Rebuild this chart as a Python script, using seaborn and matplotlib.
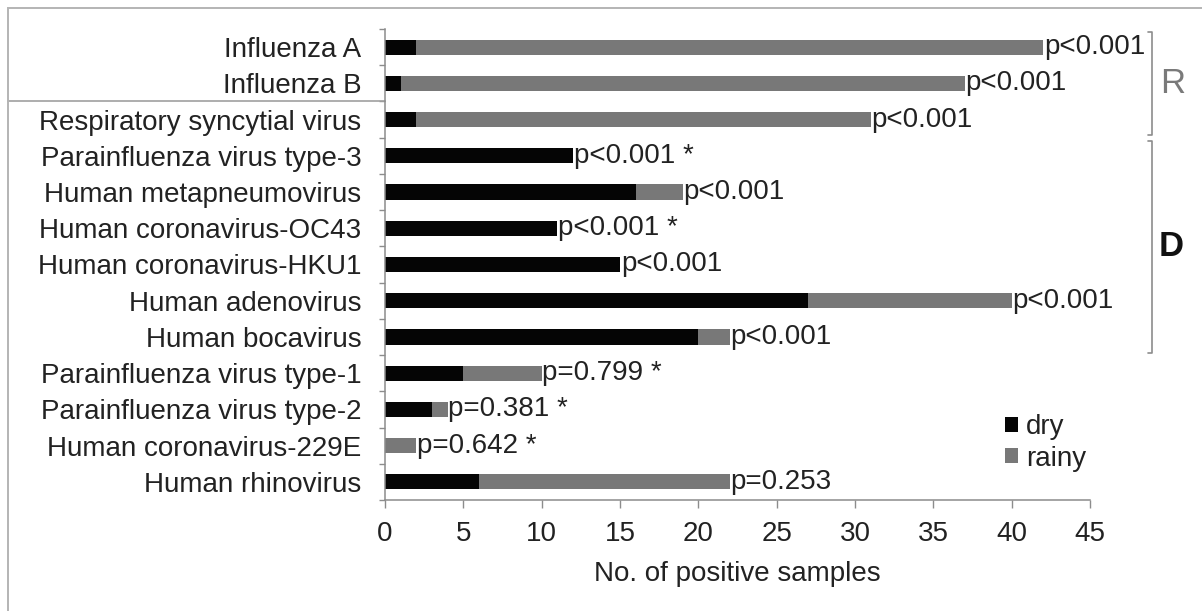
import numpy as np
import pandas as pd
import matplotlib
matplotlib.use("Agg")
import matplotlib.pyplot as plt
import matplotlib.transforms as mtransforms
from matplotlib.patches import Patch, Rectangle
import seaborn as sns

viruses = [
    "Influenza A",
    "Influenza B",
    "Respiratory syncytial virus",
    "Parainfluenza virus type-3",
    "Human metapneumovirus",
    "Human coronavirus-OC43",
    "Human coronavirus-HKU1",
    "Human adenovirus",
    "Human bocavirus",
    "Parainfluenza virus type-1",
    "Parainfluenza virus type-2",
    "Human coronavirus-229E",
    "Human rhinovirus",
]
dry = [2, 1, 2, 12, 16, 11, 15, 27, 20, 5, 3, 0, 6]
rainy = [40, 36, 29, 0, 3, 0, 0, 13, 2, 5, 1, 2, 16]
p_labels = [
    "p<0.001", "p<0.001", "p<0.001", "p<0.001 *", "p<0.001", "p<0.001 *",
    "p<0.001", "p<0.001", "p<0.001", "p=0.799 *", "p=0.381 *", "p=0.642 *",
    "p=0.253",
]
x_ticks = [0, 5, 10, 15, 20, 25, 30, 35, 40, 45]
# season groups: (label, first row, last row)
groups = [("R", 0, 2), ("D", 3, 8)]

DRY = "#050505"
RAINY = "#787878"
LINE = "#8c8c8c"
TXT = "#222222"
FS = 20

sns.set_style("ticks")
plt.rcParams["font.family"] = ["Liberation Sans", "DejaVu Sans"]

df = pd.DataFrame({"virus": viruses, "dry": dry, "rainy": rainy})
df["total"] = df["dry"] + df["rainy"]

fig = plt.figure(figsize=(12.02, 6.11), dpi=100)
ax = fig.add_axes([385 / 1202, 1 - 500 / 611, 705 / 1202, 471 / 611])

sns.barplot(data=df, x="total", y="virus", color=RAINY, saturation=1,
            width=0.42, linewidth=0, ax=ax)
sns.barplot(data=df, x="dry", y="virus", color=DRY, saturation=1,
            width=0.42, linewidth=0, ax=ax)

ax.set_xlim(0, 45)
ax.set_ylim(len(viruses) - 0.5, -0.5)
ax.set_xticks(x_ticks)
ax.set_xticklabels([str(t) for t in x_ticks])
ax.set_ylabel("")
ax.set_xlabel("No. of positive samples", fontsize=FS, color=TXT, labelpad=10)

for s in ["top", "right"]:
    ax.spines[s].set_visible(False)
for s in ["left", "bottom"]:
    ax.spines[s].set_color(LINE)
    ax.spines[s].set_linewidth(1.1)

ax.tick_params(axis="x", length=6, width=1, color=LINE, direction="out",
               labelsize=FS, labelcolor=TXT, pad=9)
ax.tick_params(axis="y", which="major", length=0, pad=17,
               labelsize=FS, labelcolor=TXT)
ax.set_yticks(np.arange(-0.5, len(viruses)), minor=True)
ax.tick_params(axis="y", which="minor", length=4, width=1, color=LINE,
               direction="out")

# p-value labels next to the bars
for i, (tot, lab) in enumerate(zip(df["total"], p_labels)):
    ax.text(tot + 0.05, i, lab, fontsize=FS, color=TXT, ha="left",
            va="center", clip_on=False)

# season brackets
bx = 48.95
for name, r0, r1 in groups:
    y0, y1 = r0 - 0.42, r1 + 0.43
    ax.plot([bx - 0.25, bx, bx, bx - 0.25], [y0, y0, y1, y1], color=LINE,
            lw=1.2, clip_on=False)
    if name == "R":
        ax.text(50.3, (r0 + r1) / 2, name, fontsize=25, color="#7a7a7a",
                ha="center", va="center", clip_on=False)
    else:
        ax.text(50.2, (r0 + r1) / 2, name, fontsize=25, color="#111111",
                fontweight="bold", ha="center", va="center", clip_on=False)

# separator line under the influenza rows
trans = mtransforms.blended_transform_factory(ax.transAxes, ax.transData)
ax.plot([-(385 - 8) / 705, 0], [1.5, 1.5], color="#a0a0a0", lw=1.2,
        transform=trans, clip_on=False)

handles = [Patch(facecolor=DRY, edgecolor="none"),
           Patch(facecolor=RAINY, edgecolor="none")]
ax.legend(handles, ["dry", "rainy"], loc="upper left",
          bbox_to_anchor=(1005 / 1202, 1 - 414 / 611),
          bbox_transform=fig.transFigure, frameon=False, fontsize=FS,
          handlelength=0.45, handleheight=0.45, handletextpad=0.3,
          labelspacing=0.2, borderpad=0, borderaxespad=0,
          labelcolor=TXT)

# outer frame of the figure panel
fig.add_artist(Rectangle((8 / 1202, -0.05), 1.1, 1 - 8 / 611 + 0.05,
                         transform=fig.transFigure, fill=False,
                         edgecolor="#b4b4b4", lw=1.4))

fig.savefig("out.png", dpi=100)
